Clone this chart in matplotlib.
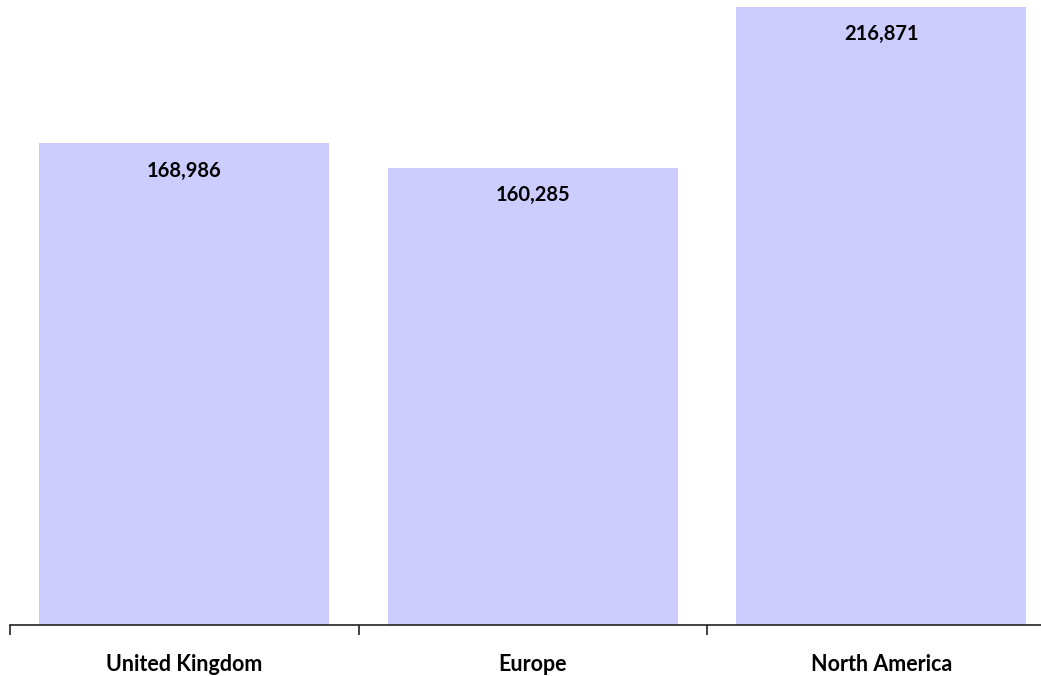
import matplotlib
matplotlib.use("Agg")
import matplotlib.pyplot as plt

categories = ["United Kingdom", "Europe", "North America"]
values = [168986, 160285, 216871]

W, H = 1041, 676
fig = plt.figure(figsize=(W / 100, H / 100), dpi=100)
left = 10 / W
width = 1045.5 / W
bottom = (H - 625) / H
height = 625 / H
ax = fig.add_axes([left, bottom, width, height])

x = list(range(len(categories)))
ax.bar(x, values, width=0.832, color="#CCCCFF", zorder=2)
ax.set_xlim(-0.5, 2.5)
ax.set_ylim(0, 219300)

for xi, v in zip(x, values):
    ax.annotate(f"{v:,}", xy=(xi, v), xytext=(0, -19.5), textcoords="offset points",
                ha="center", va="center", fontsize=14.5, fontweight="bold",
                family="Lato", color="black")

for s in ["top", "right", "left"]:
    ax.spines[s].set_visible(False)
ax.spines["bottom"].set_linewidth(1.2)
ax.spines["bottom"].set_color("#222222")
ax.set_yticks([])
ax.set_xticks([-0.5, 0.5, 1.5, 2.5])
ax.set_xticklabels([])
ax.set_xticks(x, minor=True)
ax.set_xticklabels(categories, minor=True, fontsize=15.5, fontweight="bold", family="Lato")
ax.tick_params(axis="x", which="major", direction="out", length=7, width=1.2, color="#222222")
ax.tick_params(axis="x", which="minor", length=0, pad=21)

fig.savefig("out.png", dpi=100)
